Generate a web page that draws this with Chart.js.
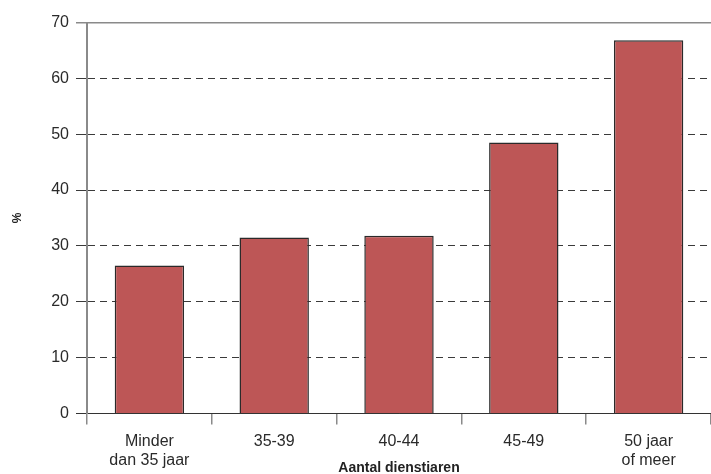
<!DOCTYPE html>
<html>
<head>
<meta charset="utf-8">
<script src="https://cdn.jsdelivr.net/npm/chart.js@4/dist/chart.umd.min.js"></script>
<style>
  html, body { margin: 0; padding: 0; background: #fff; }
  #wrap { width: 711px; height: 474px; }
</style>
</head>
<body>
<div id="wrap"><canvas id="c" width="711" height="474"></canvas></div>
<script>
const categories = [["Minder", "dan 35 jaar"], "35-39", "40-44", "45-49", ["50 jaar", "of meer"]];
const values = [26.5, 31.5, 31.8, 48.5, 66.8];
const yTicks = [0, 10, 20, 30, 40, 50, 60, 70];
const xTitle = "Aantal dienstiaren";
const yTitle = "%";

new Chart(document.getElementById('c'), {
  type: 'bar',
  data: {
    labels: categories,
    datasets: [{
      data: values,
      backgroundColor: '#bd5656',
      borderColor: '#2a2a2a',
      borderWidth: 1.5,
      categoryPercentage: 1,
      barPercentage: 0.556
    }]
  },
  options: {
    responsive: false,
    animation: false,
    devicePixelRatio: 1,
    layout: { padding: { top: 22.5, right: 0, bottom: 0, left: 0 } },
    plugins: { legend: { display: false }, tooltip: { enabled: false } },
    scales: {
      x: {
        grid: {
          offset: true,
          drawOnChartArea: false,
          drawTicks: true,
          tickLength: 11,
          color: '#8a8a8a',
          lineWidth: 1.5
        },
        border: { display: true, color: '#333', width: 1 },
        ticks: {
          color: '#2a2a2a',
          font: { family: 'Liberation Sans, Arial, sans-serif', size: 16, lineHeight: 1.2 },
          padding: 7,
          maxRotation: 0,
          autoSkip: false
        },
        title: {
          display: true,
          text: xTitle,
          color: '#222',
          font: { family: 'Liberation Sans, Arial, sans-serif', size: 14, weight: 'bold' },
          padding: { top: 0, bottom: -3 }
        },
        afterFit: (s) => { s.height = 60.5; }
      },
      y: {
        min: 0,
        max: 70,
        afterBuildTicks: (s) => { s.ticks = yTicks.map(v => ({ value: v })); },
        grid: {
          drawTicks: true,
          tickLength: 11,
          color: (ctx) => {
            const v = ctx.tick ? ctx.tick.value : null;
            if (v === 70) return '#8a8a8a';
            if (v === 0) return '#333';
            return '#3a3a3a';
          },
          lineWidth: (ctx) => (ctx.tick && ctx.tick.value === 70) ? 1.5 : 1
        },
        border: {
          display: true,
          color: '#8a8a8a',
          width: 2,
          dash: (ctx) => {
            const v = ctx.tick ? ctx.tick.value : null;
            return (v === 0 || v === 70) ? [] : [7, 5];
          }
        },
        ticks: {
          color: '#2a2a2a',
          font: { family: 'Liberation Sans, Arial, sans-serif', size: 16 },
          padding: 7
        },
        title: {
          display: true,
          text: yTitle,
          color: '#222',
          font: { family: 'Liberation Sans, Arial, sans-serif', size: 12, weight: 'bold' },
          padding: { top: 10, bottom: 0 }
        },
        afterFit: (s) => { s.width = 87; }
      }
    }
  }
});
</script>
</body>
</html>
